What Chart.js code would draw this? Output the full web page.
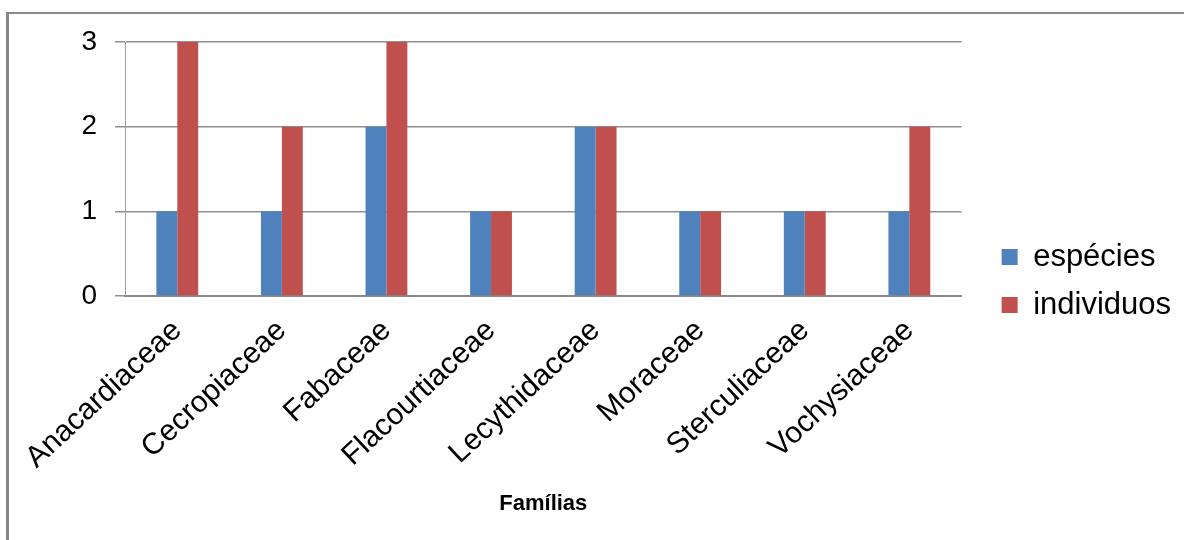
<!DOCTYPE html>
<html>
<head>
<meta charset="utf-8">
<script src="https://cdn.jsdelivr.net/npm/chart.js@4/dist/chart.umd.min.js"></script>
<style>
    body {
        margin: 0;
        background: #fff;
    }
    .frame {
        position: relative;
        width: 1184px;
        height: 540px;
        overflow: hidden;
    }
    .edge {
        position: absolute;
        left: 6px;
        top: 12px;
        width: 1300px;
        height: 700px;
        border-top: 2px solid #888;
        border-left: 3px solid #888;
    }
    canvas {
        position: absolute;
        left: 0;
        top: 0;
    }
</style>
</head>
<body>
<div class="frame">
    <div class="edge"></div>
    <canvas id="chart" width="1184" height="540"></canvas>
</div>
<script>
const familias = ["Anacardiaceae", "Cecropiaceae", "Fabaceae", "Flacourtiaceae", "Lecythidaceae", "Moraceae", "Sterculiaceae", "Vochysiaceae"]
const especies = [1, 1, 2, 1, 2, 1, 1, 1]
const individuos = [3, 2, 3, 1, 2, 1, 1, 2]
const yTicks = [0, 1, 2, 3]

const font = "'Liberation Sans', Arial, sans-serif"

// push the legend a bit away from the plot, like the excel original
const legendGap = {
    id: 'legendGap',
    afterLayout: (chart) => {
        chart.legend.left += 23
        chart.legend.right += 23
    }
}

var ctx = document.getElementById('chart').getContext('2d')
var myChart = new Chart(ctx, {
    type: 'bar',
    data: {
        labels: familias,
        datasets: [{
            label: "espécies",
            data: especies,
            backgroundColor: "#4f81bd",
        }, {
            label: "individuos",
            data: individuos,
            backgroundColor: "#c0504d",
        }]
    },
    plugins: [legendGap],
    options: {
        responsive: false,
        animation: false,
        layout: {
            padding: { left: 0, top: 42, right: 26, bottom: 20 }
        },
        datasets: {
            bar: { categoryPercentage: 0.4, barPercentage: 1.0 }
        },
        plugins: {
            tooltip: { enabled: false },
            legend: {
                position: 'right',
                labels: {
                    color: '#000',
                    font: { family: font, size: 31 },
                    boxWidth: 16,
                    boxHeight: 16,
                    padding: 17,
                }
            }
        },
        scales: {
            x: {
                grid: { display: false },
                border: { display: true, color: '#888', width: 2 },
                ticks: {
                    color: '#000',
                    font: { family: font, size: 30 },
                    minRotation: 43,
                    maxRotation: 43,
                    autoSkip: false,
                    padding: 9,
                },
                title: {
                    display: true,
                    text: 'Famílias',
                    color: '#000',
                    font: { family: font, size: 22, weight: 'bold' },
                    padding: { top: 0, bottom: 3 },
                },
                afterFit: (scale) => { scale.height = 224 }
            },
            y: {
                min: 0,
                max: 3,
                afterBuildTicks: (scale) => { scale.ticks = yTicks.map(v => ({ value: v })) },
                grid: {
                    color: '#909090',
                    lineWidth: 1.5,
                    tickLength: 10,
                },
                border: { display: true, color: '#a0a0a0', width: 1 },
                ticks: {
                    color: '#000',
                    font: { family: font, size: 28 },
                    padding: 18,
                },
                afterFit: (scale) => { scale.width = 125 }
            }
        }
    }
})
</script>
</body>
</html>
